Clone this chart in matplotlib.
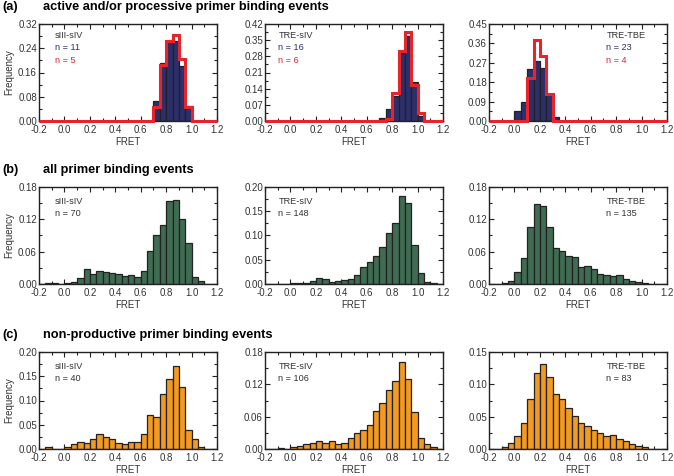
import numpy as np
import matplotlib
matplotlib.use("Agg")
import matplotlib.pyplot as plt
from matplotlib.ticker import MultipleLocator, FormatStrFormatter

plt.rcParams['font.family'] = ['Liberation Sans', 'DejaVu Sans']

# bins of width 0.05 from -0.2 to 1.2
edges = np.round(np.arange(-0.2, 1.2001, 0.05), 3)

# row (a): active and/or processive
a1_blue = [0, 0, 0, 0, 0, 0, 0, 0, 0, 0, 0, 0, 0, 0, 0, 0, 0, 0, 0.065, 0.19, 0.26, 0.265, 0.18, 0.05, 0, 0, 0, 0]
a1_red = [0, 0, 0, 0, 0, 0, 0, 0, 0, 0, 0, 0, 0, 0, 0, 0, 0, 0, 0.045, 0.185, 0.265, 0.285, 0.205, 0.045, 0, 0, 0, 0]
a2_blue = [0, 0, 0, 0, 0, 0, 0, 0, 0, 0, 0, 0, 0, 0, 0, 0, 0, 0, 0.013, 0.053, 0.11, 0.296, 0.367, 0.17, 0.02, 0, 0, 0]
a2_red = [0, 0, 0, 0, 0, 0, 0, 0, 0, 0, 0, 0, 0, 0, 0, 0, 0, 0, 0, 0.01, 0.12, 0.305, 0.385, 0.155, 0.035, 0, 0, 0]
a3_blue = [0, 0, 0, 0, 0.046, 0.086, 0.24, 0.279, 0.245, 0.122, 0.018, 0, 0, 0, 0, 0, 0, 0, 0, 0, 0, 0, 0, 0, 0, 0, 0, 0]
a3_red = [0, 0, 0, 0, 0, 0, 0.20, 0.375, 0.30, 0.125, 0, 0, 0, 0, 0, 0, 0, 0, 0, 0, 0, 0, 0, 0, 0, 0, 0, 0]

# row (b): all events
b1 = [0, 0.002, 0.002, 0, 0.002, 0.004, 0.012, 0.027, 0.019, 0.024, 0.022, 0.020, 0.018, 0.014,
      0.016, 0.013, 0.025, 0.061, 0.091, 0.11, 0.154, 0.155, 0.121, 0.077, 0.013, 0.006, 0, 0]
b2 = [0, 0, 0, 0, 0.002, 0.003, 0.003, 0.006, 0.012, 0.01, 0.004, 0.006, 0.008, 0.01,
      0.018, 0.036, 0.045, 0.058, 0.077, 0.106, 0.126, 0.182, 0.168, 0.08, 0.022, 0.005, 0.003, 0]
b3 = [0, 0, 0.002, 0.006, 0.022, 0.048, 0.106, 0.148, 0.145, 0.106, 0.067, 0.061, 0.052, 0.051,
      0.032, 0.033, 0.028, 0.019, 0.017, 0.014, 0.016, 0.010, 0.005, 0.003, 0.002, 0, 0, 0]

# row (c): non-productive
c1 = [0, 0.005, 0, 0, 0.005, 0.01, 0.015, 0.012, 0.02, 0.03, 0.025, 0.02, 0.012, 0.01,
      0.015, 0.015, 0.03, 0.07, 0.065, 0.113, 0.145, 0.172, 0.128, 0.04, 0.02, 0.005, 0, 0]
c2 = [0, 0, 0.002, 0, 0.003, 0.005, 0.01, 0.012, 0.015, 0.012, 0.015, 0.01, 0.012, 0.02,
      0.03, 0.035, 0.045, 0.071, 0.085, 0.11, 0.126, 0.161, 0.13, 0.069, 0.02, 0.01, 0.003, 0]
c3 = [0, 0, 0.003, 0.01, 0.02, 0.04, 0.078, 0.118, 0.132, 0.111, 0.085, 0.077, 0.063, 0.051,
      0.04, 0.035, 0.03, 0.025, 0.02, 0.022, 0.015, 0.012, 0.008, 0.005, 0.003, 0, 0, 0]

names = ['sIII-sIV', 'TRE-sIV', 'TRE-TBE']
n_a_blue = [11, 16, 23]
n_a_red = [5, 6, 4]
n_b = [70, 148, 135]
n_c = [40, 106, 83]

ymax = [[0.32, 0.42, 0.45], [0.18, 0.20, 0.18], [0.20, 0.18, 0.15]]
ystep = [[0.08, 0.07, 0.09], [0.06, 0.05, 0.06], [0.05, 0.06, 0.05]]

row_titles = ['active and/or processive primer binding events',
              'all primer binding events',
              'non-productive primer binding events']
row_tags = ['(a)', '(b)', '(c)']

NAVY = '#2c2f6c'
RED = '#e8242b'
GREEN = '#3f6c52'
ORANGE = '#f29a22'
EDGE = '#222222'
TXT = '#333333'

W, H = 674, 476
fig = plt.figure(figsize=(W / 100, H / 100), dpi=100)

lefts = [39, 265, 489]
tops = [24, 187, 352]
aw, ah = 178, 97

fills = [[a1_blue, a2_blue, a3_blue], [b1, b2, b3], [c1, c2, c3]]
reds = [a1_red, a2_red, a3_red]
colors = [NAVY, GREEN, ORANGE]

width = 0.05
for r in range(3):
    fig.text(2 / W, 1 - (tops[r] - 17) / H, row_tags[r], fontsize=9.2, fontweight='bold', va='center')
    fig.text(43 / W, 1 - (tops[r] - 17) / H, row_titles[r], fontsize=9.2, fontweight='bold', va='center')
    for c in range(3):
        ax = fig.add_axes([lefts[c] / W, 1 - (tops[r] + ah) / H, aw / W, ah / H])
        ax.bar(edges[:-1], fills[r][c], width=width, align='edge', color=colors[r],
               edgecolor=EDGE, linewidth=0.9, zorder=2)
        if r == 0:
            ax.stairs(reds[c], edges, color=RED, linewidth=2.2, zorder=3, clip_on=False)
        ax.set_xlim(-0.2, 1.2)
        ax.set_ylim(0, ymax[r][c])
        ax.xaxis.set_major_locator(MultipleLocator(0.2))
        ax.xaxis.set_minor_locator(MultipleLocator(0.1))
        ax.yaxis.set_major_locator(MultipleLocator(ystep[r][c]))
        ax.yaxis.set_minor_locator(MultipleLocator(ystep[r][c] / 2))
        ax.xaxis.set_major_formatter(FormatStrFormatter('%.1f'))
        ax.yaxis.set_major_formatter(FormatStrFormatter('%.2f'))
        ax.tick_params(which='both', direction='in', top=True, right=True,
                       labelsize=7, colors=EDGE, labelcolor=TXT, width=0.8)
        ax.tick_params(axis='x', pad=3)
        ax.tick_params(axis='y', pad=1.5)
        ax.tick_params(which='major', length=3.5)
        ax.tick_params(which='minor', length=2)
        for s in ax.spines.values():
            s.set_linewidth(1.0)
            s.set_color(EDGE)
        ax.set_xlabel('FRET', fontsize=7, color=TXT, labelpad=1)
        if c == 0:
            ax.set_ylabel('Frequency', fontsize=7, color=TXT, labelpad=3)

        tx = [0.09, 0.075, 0.66][c]
        if r == 0:
            ax.text(tx, 0.885, names[c], transform=ax.transAxes, fontsize=6.6, color=TXT, va='center')
            ax.text(tx, 0.755, 'n = %d' % n_a_blue[c], transform=ax.transAxes, fontsize=6.6, color=NAVY, va='center')
            ax.text(tx, 0.625, 'n = %d' % n_a_red[c], transform=ax.transAxes, fontsize=6.6, color=RED, va='center')
        else:
            n = n_b[c] if r == 1 else n_c[c]
            ax.text(tx, 0.85, names[c], transform=ax.transAxes, fontsize=6.6, color=TXT, va='center')
            ax.text(tx, 0.725, 'n = %d' % n, transform=ax.transAxes, fontsize=6.6, color=TXT, va='center')

fig.savefig('out.png', dpi=100)
